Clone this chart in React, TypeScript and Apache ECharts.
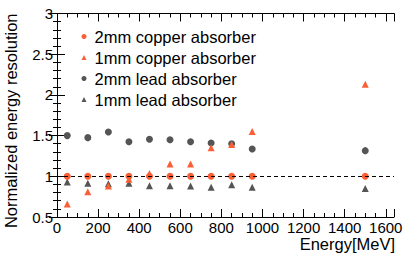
import React, { useEffect, useRef } from "react";
import * as echarts from "echarts";

const energies = [50, 150, 250, 350, 450, 550, 650, 750, 850, 950, 1500];
const cu2mm = [1, 1, 1, 1, 1, 1, 1, 1, 1, 1, 1];
const cu1mm = [0.66, 0.81, 0.88, 0.965, 1.035, 1.15, 1.15, 1.35, 1.39, 1.55, 2.13];
const pb2mm = [1.5, 1.475, 1.545, 1.425, 1.455, 1.45, 1.425, 1.41, 1.4, 1.335, 1.315];
const pb1mm = [0.93, 0.915, 0.91, 0.915, 0.885, 0.885, 0.88, 0.865, 0.895, 0.865, 0.85];
const seriesNames = ["2mm copper absorber", "1mm copper absorber", "2mm lead absorber", "1mm lead absorber"];
const xRange = { min: 0, max: 1640 };
const xMajor = 200;
const xMinor = 50;
const xLastLabel = 1600;
const yTicks = { min: 0.5, max: 3, interval: 0.5 };
const xName = "Energy[MeV]";
const yName = "Normalized energy resolution";

const ORANGE = "#fa5f35";
const GRAY = "#555555";
const FONT = "Liberation Sans";

export default function App() {
  const ref = useRef<HTMLDivElement>(null);
  useEffect(() => {
    const chart = echarts.init(ref.current!, null, { renderer: "svg" });
    const pair = (ys: number[]) => energies.map((x, i) => [x, ys[i]]);
    const line = { show: true, lineStyle: { color: "#000", width: 1 } };
    const noLine = { show: false };
    const tick = (len: number) => ({ show: true, inside: true, length: len, lineStyle: { color: "#000" } });
    const xAxisDef = (position: string, interval: number, len: number, withLine: boolean, labels: boolean) => ({
      type: "value",
      position,
      ...xRange,
      interval,
      axisLine: withLine ? line : noLine,
      axisTick: tick(len),
      minorTick: { show: false },
      splitLine: { show: false },
      axisLabel: labels
        ? {
            fontSize: 15,
            color: "#000",
            fontFamily: FONT,
            margin: 3,
            showMaxLabel: true,
            showMinLabel: true,
            hideOverlap: false,
            formatter: (v: number) => (v > xLastLabel ? "" : String(v)),
          }
        : { show: false },
    });
    chart.setOption({
      animation: false,
      textStyle: { fontFamily: FONT },
      grid: { left: 57, right: 13, top: 13.5, bottom: 37, containLabel: false, outerBoundsMode: "none" },
      legend: {
        orient: "vertical",
        left: 76.5,
        top: 23,
        itemWidth: 5,
        itemHeight: 5,
        itemGap: 4,
        textStyle: { fontSize: 16.5, fontFamily: FONT, color: "#000", lineHeight: 17, padding: [0, 0, 0, 3] },
        data: seriesNames,
      },
      graphic: [
        {
          type: "text",
          right: 12,
          top: 235,
          style: { text: xName, fontSize: 16.5, fontFamily: FONT, fill: "#000" },
        },
      ],
      xAxis: [
        xAxisDef("bottom", xMajor, 8, true, true),
        xAxisDef("bottom", xMinor, 4, false, false),
        xAxisDef("top", xMajor, 8, true, false),
        xAxisDef("top", xMinor, 4, false, false),
      ],
      yAxis: [
        {
          type: "value",
          ...yTicks,
          axisLine: line,
          axisTick: tick(8),
          minorTick: { show: true, length: 4, splitNumber: 5, lineStyle: { color: "#000" } },
          splitLine: { show: false },
          axisLabel: { fontSize: 15, color: "#000", fontFamily: FONT, margin: 4, showMaxLabel: true, showMinLabel: true, formatter: (v: number) => String(v) },
          name: yName,
          nameLocation: "end",
          nameRotate: 90,
          nameGap: 0,
          nameMoveOverlap: false,
          nameTextStyle: { fontSize: 16.5, color: "#000", fontFamily: FONT, align: "right", verticalAlign: "bottom", padding: [0, 0, 38, 0] },
        },
        {
          type: "value",
          position: "right",
          ...yTicks,
          axisLine: line,
          axisTick: tick(8),
          minorTick: { show: true, length: 4, splitNumber: 5, lineStyle: { color: "#000" } },
          splitLine: { show: false },
          axisLabel: { show: false },
        },
      ],
      series: [
        {
          name: seriesNames[0],
          type: "scatter",
          symbol: "circle",
          symbolSize: 7,
          itemStyle: { color: ORANGE, opacity: 1 },
          data: pair(cu2mm),
          z: 3,
          markLine: {
            silent: true,
            symbol: "none",
            label: { show: false },
            lineStyle: { color: "#000", type: [4, 3], width: 1 },
            data: [{ yAxis: 1 }],
          },
        },
        {
          name: seriesNames[1],
          type: "scatter",
          symbol: "triangle",
          symbolSize: 7,
          itemStyle: { color: ORANGE, opacity: 1 },
          data: pair(cu1mm),
          z: 4,
        },
        {
          name: seriesNames[2],
          type: "scatter",
          symbol: "circle",
          symbolSize: 7,
          itemStyle: { color: GRAY, opacity: 1 },
          data: pair(pb2mm),
        },
        {
          name: seriesNames[3],
          type: "scatter",
          symbol: "triangle",
          symbolSize: 7,
          itemStyle: { color: GRAY, opacity: 1 },
          data: pair(pb1mm),
        },
      ],
    });
    return () => chart.dispose();
  }, []);
  return <div ref={ref} style={{ width: 407, height: 254, position: "absolute", left: 0, top: 0 }} />;
}
